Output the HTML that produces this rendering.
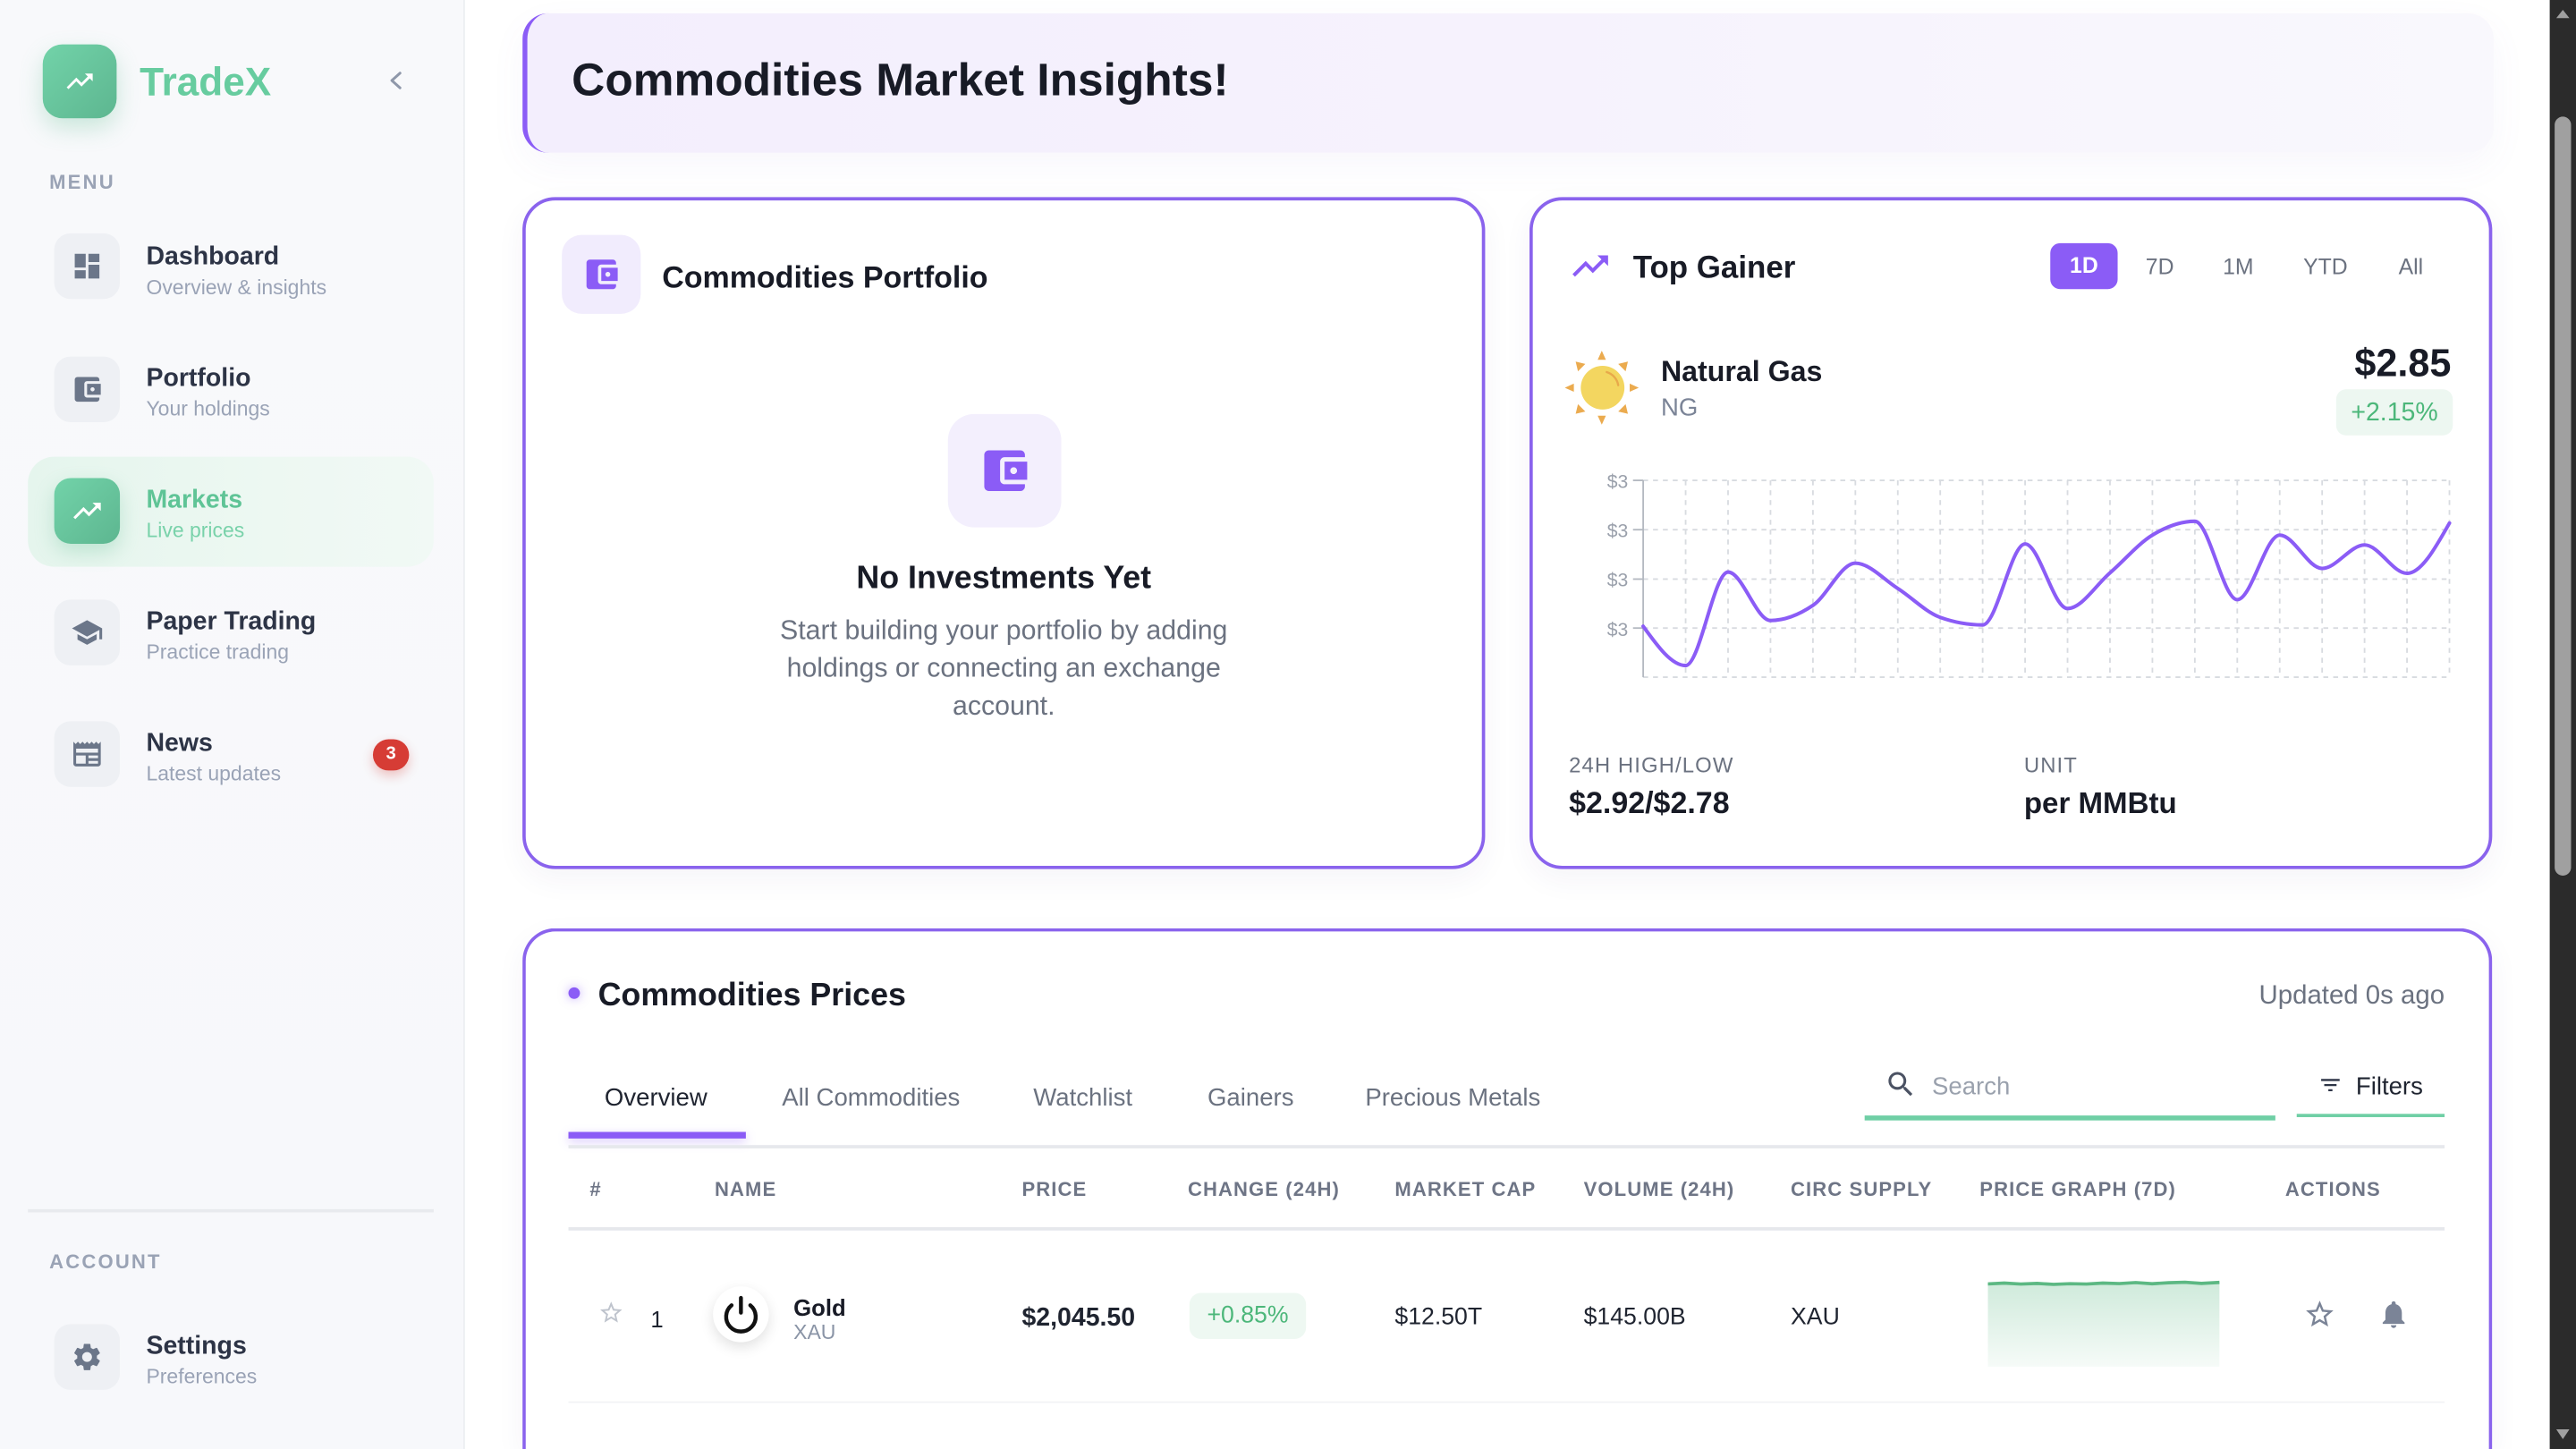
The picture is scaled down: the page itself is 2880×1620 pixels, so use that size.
<!DOCTYPE html>
<html><head><meta charset="utf-8"><style>
html,body{margin:0;padding:0;width:2880px;height:1620px;overflow:hidden;background:#fff;}
#w{position:absolute;left:0;top:0;width:1568px;height:882px;transform:scale(1.836735);transform-origin:0 0;font-family:"Liberation Sans",Arial,sans-serif;background:#fff;overflow:hidden;}
.a{position:absolute;}
.t{position:absolute;white-space:nowrap;line-height:1;margin-top:1.5px;}
.b{font-weight:bold;}
.ib{position:absolute;left:33px;width:40px;height:40px;border-radius:10px;background:#eef0f4;}
.ib svg{position:absolute;left:10px;top:10px;width:20px;height:20px;}
.nt{position:absolute;left:89px;font-size:15.5px;font-weight:bold;color:#2d3446;white-space:nowrap;line-height:1;margin-top:1.5px;}
.ns{position:absolute;left:89px;font-size:12.5px;color:#9aa3b6;white-space:nowrap;line-height:1;margin-top:1px;}
.card{position:absolute;border:2px solid #8a63ed;border-radius:20px;background:#fff;box-shadow:0 6px 18px rgba(60,40,120,0.05);box-sizing:border-box;}
.th{position:absolute;top:717px;font-size:12px;font-weight:bold;color:#6e7586;letter-spacing:.6px;white-space:nowrap;line-height:1;margin-top:1px;}
.td{position:absolute;top:794px;font-size:14.5px;color:#1f2430;white-space:nowrap;line-height:1;margin-top:1px;}
</style></head><body><div id="w">

<!-- sidebar -->
<div class="a" style="left:0;top:0;width:282px;height:882px;background:linear-gradient(180deg,#f8f9fb,#f7f8fb);border-right:1.5px solid #eceef2;"></div>
<div class="a" style="left:26px;top:27px;width:45px;height:45px;border-radius:12px;background:linear-gradient(135deg,#72d3a9,#5db690);box-shadow:0 6px 14px rgba(95,190,145,.3);"></div>
<svg class="a" style="left:39px;top:40px;width:19px;height:19px" viewBox="0 0 24 24"><path fill="#fff" d="M16 6l2.29 2.29-4.88 4.88-4-4L2 16.59 3.41 18l6-6 4 4 6.3-6.29L22 12V6z"/></svg>
<div class="t b" style="left:85px;top:37px;font-size:24px;color:#67cc9f;">TradeX</div>
<svg class="a" style="left:234px;top:41px;width:14px;height:16px" viewBox="0 0 14 16"><path d="M9.5 3.5L4.5 8l5 4.5" fill="none" stroke="#8f98aa" stroke-width="1.6" stroke-linecap="round" stroke-linejoin="round"/></svg>
<div class="t b" style="left:30px;top:103px;font-size:12px;color:#9aa3b5;letter-spacing:1.2px;">MENU</div>

<div class="ib" style="top:142px"><svg viewBox="0 0 24 24"><path fill="#6b7689" d="M3 13h8V3H3v10zm0 8h8v-6H3v6zm10 0h8V11h-8v10zm0-18v6h8V3h-8z"/></svg></div>
<div class="nt" style="top:147px">Dashboard</div><div class="ns" style="top:168px">Overview &amp; insights</div>

<div class="ib" style="top:217px"><svg viewBox="0 0 24 24"><path fill="#6b7689" d="M21 18v1c0 1.1-.9 2-2 2H5c-1.11 0-2-.9-2-2V5c0-1.1.89-2 2-2h14c1.1 0 2 .9 2 2v1h-9c-1.11 0-2 .9-2 2v8c0 1.1.89 2 2 2h9zm-9-2h10V8H12v8zm4-2.5c-.83 0-1.5-.67-1.5-1.5s.67-1.5 1.5-1.5 1.5.67 1.5 1.5-.67 1.5-1.5 1.5z"/></svg></div>
<div class="nt" style="top:221px">Portfolio</div><div class="ns" style="top:242px">Your holdings</div>

<div class="a" style="left:17px;top:278px;width:247px;height:67px;border-radius:16px;background:linear-gradient(90deg,#e5f5ed,#edf8f2 60%,#f1f9f5);"></div>
<div class="ib" style="top:291px;background:linear-gradient(135deg,#72d3a9,#5db690);box-shadow:0 5px 12px rgba(95,190,145,.3);"><svg viewBox="0 0 24 24"><path fill="#fff" d="M16 6l2.29 2.29-4.88 4.88-4-4L2 16.59 3.41 18l6-6 4 4 6.3-6.29L22 12V6z"/></svg></div>
<div class="nt" style="top:295px;color:#5fc496">Markets</div><div class="ns" style="top:316px;color:#79d2aa">Live prices</div>

<div class="ib" style="top:365px"><svg viewBox="0 0 24 24"><path fill="#6b7689" d="M5 13.18v4L12 21l7-3.82v-4L12 17l-7-3.82zM12 3L1 9l11 6 9-4.910V17h2V9L12 3z"/></svg></div>
<div class="nt" style="top:369px">Paper Trading</div><div class="ns" style="top:390px">Practice trading</div>

<div class="ib" style="top:439px"><svg viewBox="0 0 24 24"><path fill="#6b7689" d="M22 3l-1.67 1.67L18.67 3 17 4.67 15.33 3l-1.66 1.67L12 3l-1.67 1.67L8.67 3 7 4.67 5.33 3 3.67 4.67 2 3v16c0 1.1.9 2 2 2h16c1.1 0 2-.9 2-2V3zM11 19H4v-6h7v6zm9 0h-7v-2h7v2zm0-4h-7v-2h7v2zm0-4H4V8h16v3z"/></svg></div>
<div class="nt" style="top:443px">News</div><div class="ns" style="top:464px">Latest updates</div>
<div class="a" style="left:227px;top:450px;width:22px;height:19px;border-radius:10px;background:#d63c35;box-shadow:0 3px 7px rgba(214,60,53,.3);color:#fff;font-size:11px;font-weight:bold;text-align:center;line-height:19px;">3</div>

<div class="a" style="left:17px;top:736px;width:247px;height:1.5px;background:#e8eaee;"></div>
<div class="t b" style="left:30px;top:760px;font-size:12px;color:#9aa3b5;letter-spacing:1.2px;">ACCOUNT</div>
<div class="ib" style="top:806px"><svg viewBox="0 0 24 24"><path fill="#6b7689" d="M19.14 12.94c.04-.3.06-.61.06-.94 0-.32-.02-.64-.07-.94l2.03-1.58c.18-.14.23-.41.12-.61l-1.92-3.32c-.12-.22-.37-.29-.59-.22l-2.39.96c-.5-.38-1.03-.7-1.62-.94l-.36-2.54c-.04-.24-.24-.41-.48-.41h-3.84c-.24 0-.43.17-.47.41l-.36 2.54c-.59.24-1.13.57-1.62.94l-2.39-.96c-.22-.08-.47 0-.59.22L2.74 8.87c-.12.21-.08.47.12.61l2.03 1.58c-.05.3-.09.63-.09.94s.02.64.07.94l-2.03 1.58c-.18.14-.23.41-.12.61l1.92 3.32c.12.22.37.29.59.22l2.39-.96c.5.38 1.03.7 1.62.94l.36 2.54c.05.24.24.41.48.41h3.84c.24 0 .44-.17.47-.41l.36-2.54c.59-.24 1.13-.56 1.62-.94l2.39.96c.22.08.47 0 .59-.22l1.92-3.32c.12-.22.07-.47-.12-.61l-2.01-1.58zM12 15.6c-1.98 0-3.6-1.62-3.6-3.6s1.62-3.6 3.6-3.6 3.6 1.62 3.6 3.6-1.62 3.6-3.6 3.6z"/></svg></div>
<div class="nt" style="top:810px">Settings</div><div class="ns" style="top:831px">Preferences</div>

<!-- banner -->
<div class="a" style="left:318px;top:8px;width:1200px;height:85px;box-sizing:border-box;border-left:3px solid #8b5cf6;border-radius:16px;background:linear-gradient(90deg,#f3eefd 0%,#f6f2fd 50%,#f9f8fd 100%);box-shadow:0 8px 22px rgba(120,90,200,0.05);"></div>
<div class="t b" style="left:348px;top:33.5px;font-size:28px;color:#181b26;">Commodities Market Insights!</div>

<!-- card 1 -->
<div class="card" style="left:318px;top:120px;width:586px;height:409px;"></div>
<div class="a" style="left:342px;top:143px;width:48px;height:48px;border-radius:12px;background:#f1ecfd;"></div>
<svg class="a" style="left:354px;top:155px;width:24px;height:24px" viewBox="0 0 24 24"><path fill="#8b5cf6" d="M21 18v1c0 1.1-.9 2-2 2H5c-1.11 0-2-.9-2-2V5c0-1.1.89-2 2-2h14c1.1 0 2 .9 2 2v1h-9c-1.11 0-2 .9-2 2v8c0 1.1.89 2 2 2h9zm-9-2h10V8H12v8zm4-2.5c-.83 0-1.5-.67-1.5-1.5s.67-1.5 1.5-1.5 1.5.67 1.5 1.5-.67 1.5-1.5 1.5z"/></svg>
<div class="t b" style="left:403px;top:158px;font-size:18.5px;color:#181b26;">Commodities Portfolio</div>
<div class="a" style="left:577px;top:252px;width:69px;height:69px;border-radius:16px;background:#f3effd;"></div>
<svg class="a" style="left:595px;top:270px;width:33px;height:33px" viewBox="0 0 24 24"><path fill="#8b5cf6" d="M21 18v1c0 1.1-.9 2-2 2H5c-1.11 0-2-.9-2-2V5c0-1.1.89-2 2-2h14c1.1 0 2 .9 2 2v1h-9c-1.11 0-2 .9-2 2v8c0 1.1.89 2 2 2h9zm-9-2h10V8H12v8zm4-2.5c-.83 0-1.5-.67-1.5-1.5s.67-1.5 1.5-1.5 1.5.67 1.5 1.5-.67 1.5-1.5 1.5z"/></svg>
<div class="t b" style="left:411px;width:400px;text-align:center;top:341.5px;font-size:19.5px;color:#181b26;">No Investments Yet</div>
<div class="a" style="left:361px;width:500px;text-align:center;top:372.5px;font-size:16.5px;line-height:23px;color:#6b7280;">Start building your portfolio by adding<br>holdings or connecting an exchange<br>account.</div>

<!-- card 2 -->
<div class="card" style="left:931px;top:120px;width:586px;height:409px;"></div>
<svg class="a" style="left:955px;top:151px;width:26px;height:24px" viewBox="0 0 24 22"><path fill="#8b5cf6" d="M16 4l2.29 2.29-4.88 4.88-4-4L2 14.59 3.41 16l6-6 4 4 6.3-6.29L22 10V4z"/></svg>
<div class="t b" style="left:994px;top:152.5px;font-size:19px;color:#181b26;">Top Gainer</div>
<div class="a" style="left:1248px;top:148px;width:41px;height:28px;border-radius:6px;background:#8b5cf6;color:#fff;font-size:13.5px;font-weight:bold;text-align:center;line-height:28px;">1D</div>
<div class="t" style="left:1306px;top:154px;font-size:13.5px;color:#6b7280;">7D</div>
<div class="t" style="left:1353px;top:154px;font-size:13.5px;color:#6b7280;">1M</div>
<div class="t" style="left:1402px;top:154px;font-size:13.5px;color:#6b7280;">YTD</div>
<div class="t" style="left:1460px;top:154px;font-size:13.5px;color:#6b7280;">All</div>

<svg class="a" style="left:951px;top:212px;width:48px;height:48px" viewBox="951 212 48 48">
<g fill="#ebab4f">
<polygon points="975,213.5 972.5,219 977.5,219"/>
<polygon points="975,258.5 972.5,253 977.5,253"/>
<polygon points="952.5,236 958,233.5 958,238.5"/>
<polygon points="997.5,236 992,233.5 992,238.5"/>
<polygon points="959.1,220.1 960.5,226 965,221.5"/>
<polygon points="990.9,220.1 989.5,226 985,221.5"/>
<polygon points="959.1,251.9 960.5,246 965,250.5"/>
<polygon points="990.9,251.9 989.5,246 985,250.5"/>
</g>
<circle cx="975.5" cy="236" r="13.3" fill="#f3d660"/>
<path d="M978 226.5a10 10 0 0 1 7 8" fill="none" stroke="#e8a94a" stroke-width="1.3" stroke-linecap="round"/>
</svg>
<div class="t b" style="left:1011px;top:216px;font-size:17.5px;color:#181b26;">Natural Gas</div>
<div class="t" style="left:1011px;top:239px;font-size:15px;color:#7b8497;">NG</div>
<div class="t b" style="right:76px;top:208.5px;font-size:23.5px;color:#181b26;">$2.85</div>
<div class="a" style="left:1422px;top:237px;width:71px;height:28px;border-radius:6px;background:#edf7f1;color:#4cb77a;font-size:15.5px;text-align:center;line-height:29px;">+2.15%</div>

<svg class="a" style="left:960px;top:280px;width:540px;height:140px" viewBox="960 280 540 140">
<g stroke="#d8dbe0" stroke-width="1" stroke-dasharray="3 3" fill="none" id="grid"></g>
<g stroke="#b4b9c1" stroke-width="1">
<line x1="1000.2" y1="292.4" x2="1000.2" y2="412.2"/>
<line x1="994" y1="292.4" x2="1000.2" y2="292.4"/>
<line x1="994" y1="322.4" x2="1000.2" y2="322.4"/>
<line x1="994" y1="352.5" x2="1000.2" y2="352.5"/>
<line x1="994" y1="382.3" x2="1000.2" y2="382.3"/>
</g>
<g font-family="Liberation Sans, Arial, sans-serif" font-size="11.5" fill="#9aa0ab" text-anchor="end">
<text x="991" y="297">$3</text><text x="991" y="327">$3</text><text x="991" y="357">$3</text><text x="991" y="387">$3</text>
</g>
<path id="ln" fill="none" stroke="#8b5cf6" stroke-width="2.2" stroke-linejoin="round" stroke-linecap="round" d=""/>
</svg>

<div class="t" style="left:955px;top:457px;font-size:13px;color:#6b7280;letter-spacing:.6px;">24H HIGH/LOW</div>
<div class="t b" style="left:955px;top:478px;font-size:18.5px;color:#181b26;">$2.92/$2.78</div>
<div class="t" style="left:1232px;top:457px;font-size:13px;color:#6b7280;letter-spacing:.6px;">UNIT</div>
<div class="t b" style="left:1232px;top:478px;font-size:18px;color:#181b26;">per MMBtu</div>

<!-- card 3 -->
<div class="card" style="left:318px;top:565px;width:1199px;height:317px;border-bottom:none;border-radius:20px 20px 0 0;"></div>
<div class="a" style="left:345.5px;top:601px;width:7px;height:7px;border-radius:50%;background:#8b5cf6;box-shadow:0 0 6px rgba(139,92,246,.5);"></div>
<div class="t b" style="left:364px;top:595.5px;font-size:19.5px;color:#181b26;">Commodities Prices</div>
<div class="t" style="right:80px;top:597px;font-size:16px;color:#6b7280;">Updated 0s ago</div>

<div class="t" style="left:368px;top:659.5px;font-size:15px;color:#1f2430;">Overview</div>
<div class="t" style="left:476px;top:659.5px;font-size:15px;color:#6b7280;">All Commodities</div>
<div class="t" style="left:629px;top:659.5px;font-size:15px;color:#6b7280;">Watchlist</div>
<div class="t" style="left:735px;top:659.5px;font-size:15px;color:#6b7280;">Gainers</div>
<div class="t" style="left:831px;top:659.5px;font-size:15px;color:#6b7280;">Precious Metals</div>
<div class="a" style="left:346px;top:689px;width:108px;height:3.5px;background:#8b5cf6;box-shadow:0 2px 6px rgba(139,92,246,.35);"></div>
<div class="a" style="left:346px;top:697px;width:1142px;height:1.5px;background:#e6e8ec;"></div>

<svg class="a" style="left:1147px;top:650px;width:20px;height:20px" viewBox="0 0 24 24"><path fill="#4b5263" d="M15.5 14h-.79l-.28-.27A6.471 6.471 0 0016 9.5 6.5 6.5 0 109.5 16c1.61 0 3.09-.59 4.23-1.57l.27.28v.79l5 4.99L20.49 19l-4.99-5zm-6 0C7.01 14 5 11.99 5 9.5S7.01 5 9.5 5 14 7.01 14 9.5 11.99 14 9.5 14z"/></svg>
<div class="t" style="left:1176px;top:652.5px;font-size:15px;color:#9aa1ad;">Search</div>
<div class="a" style="left:1135px;top:679px;width:250px;height:2.5px;background:#6fcfa5;"></div>
<svg class="a" style="left:1411px;top:653px;width:15px;height:15px" viewBox="0 0 24 24"><path fill="#2d3446" d="M10 18h4v-2h-4v2zM3 6v2h18V6H3zm3 7h12v-2H6v2z"/></svg>
<div class="t" style="left:1434px;top:652.5px;font-size:15px;color:#1f2430;">Filters</div>
<div class="a" style="left:1398px;top:677.5px;width:90px;height:2.5px;background:#6fcfa5;"></div>

<div class="th" style="left:359px">#</div>
<div class="th" style="left:435px">NAME</div>
<div class="th" style="left:622px">PRICE</div>
<div class="th" style="left:723px">CHANGE (24H)</div>
<div class="th" style="left:849px">MARKET CAP</div>
<div class="th" style="left:964px">VOLUME (24H)</div>
<div class="th" style="left:1090px">CIRC SUPPLY</div>
<div class="th" style="left:1205px">PRICE GRAPH (7D)</div>
<div class="th" style="left:1391px">ACTIONS</div>
<div class="a" style="left:346px;top:747px;width:1142px;height:1.5px;background:#e6e8ec;"></div>

<svg class="a" style="left:364px;top:791px;width:16px;height:16px" viewBox="0 0 24 24"><path fill="#bfc4cd" d="M22 9.24l-7.19-.62L12 2 9.19 8.63 2 9.24l5.46 4.73L5.82 21 12 17.27 18.18 21l-1.63-7.03L22 9.24zM12 15.4l-3.76 2.27 1-4.28-3.32-2.88 4.38-.38L12 6.1l1.71 4.04 4.38.38-3.32 2.88 1 4.28L12 15.4z"/></svg>
<div class="td" style="left:396px;top:795px;font-size:14px;">1</div>
<div class="a" style="left:434px;top:783px;width:34px;height:34px;border-radius:50%;background:#fff;box-shadow:0 3px 8px rgba(0,0,0,.12);"></div>
<svg class="a" style="left:434px;top:783px;width:34px;height:34px" viewBox="0 0 34 34"><path d="M11.3 11.5a9 9 0 1 0 11.4 0" fill="none" stroke="#111" stroke-width="2.4" stroke-linecap="round"/><line x1="17" y1="7" x2="17" y2="16" stroke="#111" stroke-width="2.4" stroke-linecap="round"/></svg>
<div class="t b" style="left:483px;top:787px;font-size:14px;color:#181b26;">Gold</div>
<div class="t" style="left:483px;top:803px;font-size:12.5px;color:#8a94a6;">XAU</div>
<div class="td b" style="left:622px;font-size:15.5px;">$2,045.50</div>
<div class="a" style="left:724px;top:787px;width:71px;height:28px;border-radius:7px;background:#eef8f2;color:#4cb77a;font-size:14.5px;text-align:center;line-height:29px;">+0.85%</div>
<div class="td" style="left:849px">$12.50T</div>
<div class="td" style="left:964px">$145.00B</div>
<div class="td" style="left:1090px">XAU</div>
<svg class="a" style="left:1210px;top:776px;width:141px;height:56px" viewBox="0 0 141 56">
<defs><linearGradient id="gf" x1="0" y1="0" x2="0" y2="1"><stop offset="0" stop-color="#cfeadb"/><stop offset="1" stop-color="#f6fbf8"/></linearGradient></defs>
<path d="M0 5.5 L10 5 L20 5.6 L30 5.2 L40 5.8 L50 5.4 L60 5.6 L70 5 L80 5.3 L90 4.7 L100 5.4 L110 4.8 L120 4.5 L130 5.2 L141 4.6 L141 56 L0 56 Z" fill="url(#gf)"/>
<path d="M0 5.5 L10 5 L20 5.6 L30 5.2 L40 5.8 L50 5.4 L60 5.6 L70 5 L80 5.3 L90 4.7 L100 5.4 L110 4.8 L120 4.5 L130 5.2 L141 4.6" fill="none" stroke="#5cb883" stroke-width="2"/>
</svg>
<svg class="a" style="left:1402px;top:790px;width:20px;height:20px" viewBox="0 0 24 24"><path fill="#7b8497" d="M22 9.24l-7.19-.62L12 2 9.19 8.63 2 9.24l5.46 4.73L5.82 21 12 17.27 18.18 21l-1.63-7.03L22 9.24zM12 15.4l-3.76 2.27 1-4.28-3.32-2.88 4.38-.38L12 6.1l1.71 4.04 4.38.38-3.32 2.88 1 4.28L12 15.4z"/></svg>
<svg class="a" style="left:1447px;top:790px;width:20px;height:20px" viewBox="0 0 24 24"><path fill="#7b8497" d="M12 22c1.1 0 2-.9 2-2h-4c0 1.1.89 2 2 2zm6-6v-5c0-3.07-1.64-5.64-4.5-6.32V4c0-.83-.67-1.5-1.5-1.5s-1.5.67-1.5 1.5v.68C7.63 5.36 6 7.92 6 11v5l-2 2v1h16v-1l-2-2z"/></svg>
<div class="a" style="left:346px;top:853px;width:1142px;height:1px;background:#f2f3f5;"></div>

<!-- scrollbar -->
<div class="a" style="left:1552px;top:0;width:16px;height:882px;background:#2b2b2b;"></div>
<div class="a" style="left:1555px;top:71px;width:10px;height:462px;border-radius:5px;background:#a0a0a0;"></div>
<svg class="a" style="left:1552px;top:0;width:16px;height:882px" viewBox="0 0 16 882"><polygon points="4,11 12,11 8,6" fill="#a0a0a0"/><polygon points="4,870 12,870 8,876" fill="#a0a0a0"/></svg>

</div>
<script>
(function(){
var g=document.getElementById('grid'),s='';
var ys=[292.4,322.4,352.5,382.3,412.2];
for(var i=0;i<ys.length;i++){s+='<line x1="1000.2" y1="'+ys[i]+'" x2="1491" y2="'+ys[i]+'"/>';}
for(var k=1;k<=19;k++){var x=1000.2+k*25.83;s+='<line x1="'+x+'" y1="292.4" x2="'+x+'" y2="412.2"/>';}
g.innerHTML=s;
var Y=[381.2,405.1,348.2,377.7,368.5,342.8,358.2,375.8,380.4,331.1,370.4,348.7,325.7,317.3,365.0,325.7,346.0,331.7,349.0,318.4];
var X=[];for(var j=0;j<Y.length;j++)X.push(1000.2+j*25.83);
function sg(v){return v<0?-1:1;}
var n=Y.length,t=new Array(n);
for(var i=1;i<n-1;i++){var h0=X[i]-X[i-1],h1=X[i+1]-X[i],s0=(Y[i]-Y[i-1])/h0,s1=(Y[i+1]-Y[i])/h1,p=(s0*h1+s1*h0)/(h0+h1);t[i]=(sg(s0)+sg(s1))*Math.min(Math.abs(s0),Math.abs(s1),0.5*Math.abs(p))||0;}
t[0]=(3*(Y[1]-Y[0])/(X[1]-X[0])-t[1])/2;
t[n-1]=(3*(Y[n-1]-Y[n-2])/(X[n-1]-X[n-2])-t[n-2])/2;
var d='M'+X[0]+' '+Y[0];
for(var i=0;i<n-1;i++){var dx=(X[i+1]-X[i])/3;d+=' C'+(X[i]+dx).toFixed(2)+' '+(Y[i]+dx*t[i]).toFixed(2)+' '+(X[i+1]-dx).toFixed(2)+' '+(Y[i+1]-dx*t[i+1]).toFixed(2)+' '+X[i+1].toFixed(2)+' '+Y[i+1];}
document.getElementById('ln').setAttribute('d',d);
})();
</script>
</body></html>
